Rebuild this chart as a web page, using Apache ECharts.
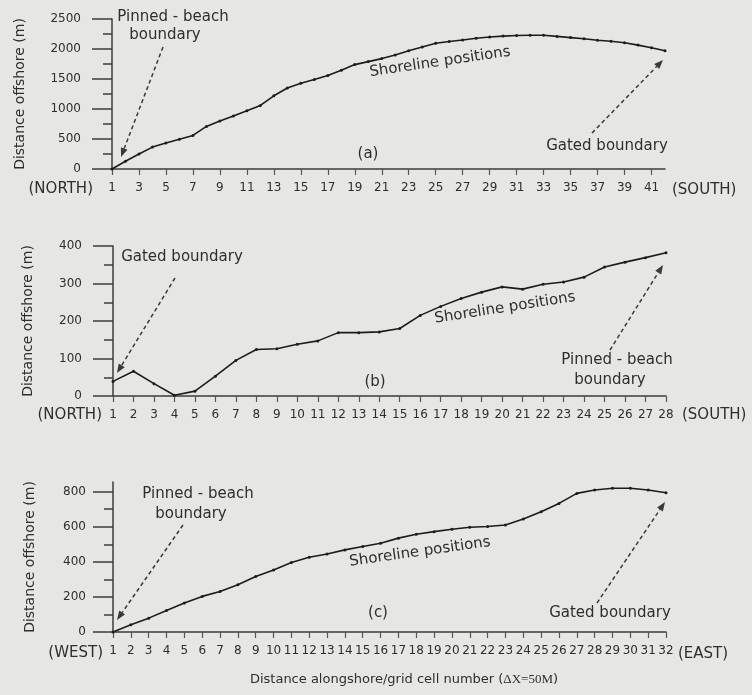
<!DOCTYPE html>
<html>
<head>
<meta charset="utf-8">
<script src="https://cdn.jsdelivr.net/npm/echarts@6/dist/echarts.min.js"></script>
<style>
html, body { margin: 0; padding: 0; background: #e6e6e3; }
#main { width: 752px; height: 695px; }
</style>
</head>
<body>
<div id="main"></div>
<script>
// grid cell numbers
var cellsA = ['1','2','3','4','5','6','7','8','9','10','11','12','13','14','15','16','17','18','19','20','21',
              '22','23','24','25','26','27','28','29','30','31','32','33','34','35','36','37','38','39','40','41','42'];
var cellsB = ['1','2','3','4','5','6','7','8','9','10','11','12','13','14','15','16','17','18','19','20','21',
              '22','23','24','25','26','27','28'];
var cellsC = ['1','2','3','4','5','6','7','8','9','10','11','12','13','14','15','16','17','18','19','20','21',
              '22','23','24','25','26','27','28','29','30','31','32'];

// shoreline positions, distance offshore (m)
var shoreA = [0, 130, 250, 365, 435, 495, 560, 710, 800, 885, 970, 1060, 1220, 1350, 1430, 1490, 1560, 1645, 1740, 1790, 1840,
              1900, 1970, 2035, 2095, 2125, 2150, 2180, 2200, 2215, 2225, 2230, 2230, 2210, 2190, 2170, 2145, 2130, 2105, 2065, 2020, 1970];
var shoreB = [39, 66, 33, 2, 13, 53, 95, 124, 126, 138, 147, 169, 169, 171, 180, 215, 239, 260, 277, 291, 285,
              298, 304, 317, 344, 357, 369, 382];
var shoreC = [0, 41, 79, 123, 165, 203, 231, 269, 316, 354, 396, 426, 445, 468, 487, 506, 535, 557, 572, 586, 597,
              601, 610, 644, 686, 733, 790, 809, 819, 819, 809, 794];

// y tick values for panel (c)
var labelsC = [0, 200, 400, 600, 800];
var minorC = [100, 300, 500, 700];

var font = 'DejaVu Sans';
var ink = '#2e2e2e';
var axisInk = '#3c3c3c';

function xAxis(grid, cells, every) {
    return {
        type: 'category', gridIndex: grid, data: cells, boundaryGap: false,
        axisLine: { lineStyle: { color: axisInk, width: 1.5 } },
        axisTick: { show: true, length: 6, interval: every, lineStyle: { color: '#555', width: 1.2 } },
        axisLabel: { interval: every, margin: 13, fontSize: 12, fontFamily: font, color: ink }
    };
}

function yAxis(grid, gap, margin) {
    return {
        type: 'value', gridIndex: grid, position: 'left',
        name: 'Distance offshore (m)', nameLocation: 'middle', nameRotate: 90, nameGap: gap,
        nameTextStyle: { fontSize: 14, fontFamily: font, color: ink },
        axisLine: { show: true, lineStyle: { color: axisInk, width: 1.5 } },
        axisTick: { show: true, length: 20, lineStyle: { color: axisInk, width: 1.5 } },
        minorTick: { show: true, splitNumber: 2, length: 9, lineStyle: { color: axisInk, width: 1.5 } },
        splitLine: { show: false },
        minorSplitLine: { show: false },
        axisLabel: { margin: margin, fontSize: 12, fontFamily: font, color: ink,
                     formatter: function (v) { return String(v); } }
    };
}

function line(i, yi, data) {
    return {
        type: 'line', xAxisIndex: i, yAxisIndex: yi, data: data,
        symbol: 'circle', symbolSize: 3, clip: false,
        lineStyle: { color: '#1c1c1c', width: 1.6 },
        itemStyle: { color: '#1c1c1c' }
    };
}

function txt(x, y, s, size, align, rot) {
    return {
        type: 'text', x: x, y: y, rotation: rot || 0,
        style: { text: s, fontSize: size, fontFamily: font, fill: ink, align: align || 'center', verticalAlign: 'middle' }
    };
}

function arrow(x1, y1, x2, y2) {
    var a = Math.atan2(y2 - y1, x2 - x1);
    var bx = x2 - 9 * Math.cos(a), by = y2 - 9 * Math.sin(a);
    var px = -Math.sin(a) * 3.5, py = Math.cos(a) * 3.5;
    return [
        { type: 'line', shape: { x1: x1, y1: y1, x2: bx, y2: by },
          style: { stroke: '#3a3a3a', lineWidth: 1.5, lineDash: [4, 3] } },
        { type: 'polygon', shape: { points: [[x2, y2], [bx + px, by + py], [bx - px, by - py]] },
          style: { fill: '#3a3a3a' } }
    ];
}

var yA = yAxis(0, 85, 31);
yA.min = 0; yA.max = 2500; yA.interval = 500;
var yB = yAxis(1, 78, 31);
yB.min = 0; yB.max = 400; yB.interval = 100;
var yC = yAxis(2, 76, 27);
yC.min = 0; yC.max = 855;
yC.minorTick = { show: false };
yC.axisTick.customValues = labelsC;
yC.axisLabel.customValues = labelsC;
var yC2 = {
    type: 'value', gridIndex: 2, position: 'left', min: 0, max: 855,
    axisLine: { show: false }, splitLine: { show: false },
    axisLabel: { show: false },
    axisTick: { show: true, length: 9, customValues: minorC, lineStyle: { color: axisInk, width: 1.5 } }
};

var graphics = [].concat(
    txt(173, 17, 'Pinned - beach', 15), txt(165, 35, 'boundary', 15),
    arrow(163, 47, 121, 157),
    txt(440, 62, 'Shoreline positions', 15, 'center', 0.145),
    txt(368, 154, '(a)', 15),
    txt(607, 146, 'Gated boundary', 15),
    arrow(592, 133, 663, 60),
    txt(93, 189, '(NORTH)', 15, 'right'), txt(672, 190, '(SOUTH)', 15, 'left'),

    txt(182, 257, 'Gated boundary', 15),
    arrow(175, 278, 117, 373),
    txt(505, 308, 'Shoreline positions', 15, 'center', 0.155),
    txt(375, 382, '(b)', 15),
    txt(617, 360, 'Pinned - beach', 15), txt(610, 380, 'boundary', 15),
    arrow(610, 350, 663, 265),
    txt(102, 415, '(NORTH)', 15, 'right'), txt(682, 415, '(SOUTH)', 15, 'left'),

    txt(198, 494, 'Pinned - beach', 15), txt(191, 514, 'boundary', 15),
    arrow(183, 525, 117, 620),
    txt(420, 552, 'Shoreline positions', 15, 'center', 0.14),
    txt(378, 613, '(c)', 15),
    txt(610, 613, 'Gated boundary', 15),
    arrow(597, 603, 665, 502),
    txt(103, 653, '(WEST)', 15, 'right'), txt(678, 654, '(EAST)', 15, 'left'),
    {
        type: 'text', x: 404, y: 680,
        style: {
            text: '{a|Distance alongshore/grid cell number (}{b|\u0394X=50M}{a|)}',
            align: 'center', verticalAlign: 'middle',
            rich: {
                a: { fontSize: 13, fontFamily: font, fill: ink },
                b: { fontSize: 13, fontFamily: 'Liberation Serif', fill: ink }
            }
        }
    }
);

var chart = echarts.init(document.getElementById('main'));
chart.setOption({
    backgroundColor: '#e6e6e3',
    animation: false,
    grid: [
        { left: 112, top: 19, width: 553, height: 150 },
        { left: 113, top: 246, width: 553, height: 150 },
        { left: 113, top: 482, width: 553, height: 150 }
    ],
    xAxis: [
        xAxis(0, cellsA, function (i) { return i % 2 === 0; }),
        xAxis(1, cellsB, 0),
        xAxis(2, cellsC, 0)
    ],
    yAxis: [yA, yB, yC, yC2],
    series: [
        line(0, 0, shoreA),
        line(1, 1, shoreB),
        line(2, 2, shoreC)
    ],
    graphic: graphics
});
</script>
</body>
</html>
